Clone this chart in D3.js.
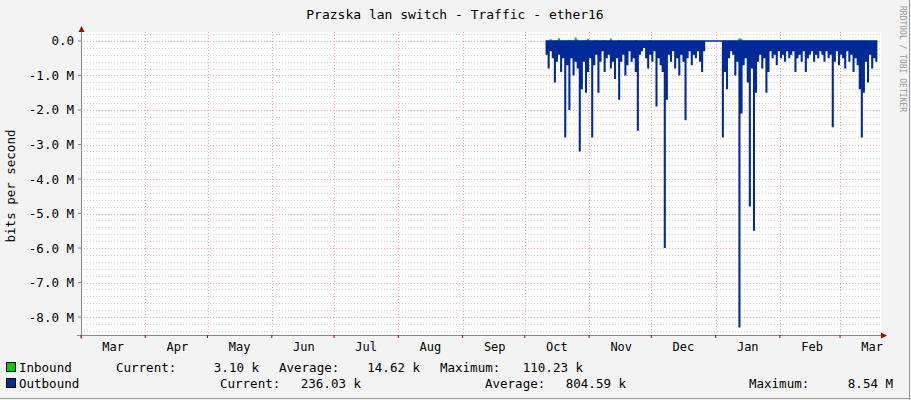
<!DOCTYPE html>
<html><head><meta charset="utf-8">
<script src="https://cdn.jsdelivr.net/npm/d3@7"></script>
<style>body{margin:0;background:#f3f3f3}svg{display:block}text{font-family:"DejaVu Sans Mono",monospace;}</style>
</head><body><svg id="c" width="911" height="400"></svg>
<script>
const title = "Prazska lan switch - Traffic - ether16";
const yTicks = [0,-1,-2,-3,-4,-5,-6,-7,-8];
const yTickLabels = ["0.0","-1.0 M","-2.0 M","-3.0 M","-4.0 M","-5.0 M","-6.0 M","-7.0 M","-8.0 M"];
const monthLabels = ["Mar","Apr","May","Jun","Jul","Aug","Sep","Oct","Nov","Dec","Jan","Feb","Mar"];
const dataStart = new Date(2015,9,11);
const outbound = [
-0.4,-0.8,-0.3,-0.5,-1.2,-0.6,-0.4,-0.9,-0.5,-2.8,
-0.7,-2.0,-0.5,-1.0,-0.6,-0.8,-3.2,-1.4,-0.6,-1.5,
-0.9,-0.5,-2.8,-0.7,-0.4,-1.5,-0.6,-0.3,-0.9,-0.5,
-0.4,-0.8,-0.6,-1.1,-0.5,-1.7,-0.6,-0.4,-1.0,-0.7,
-0.3,-0.6,-0.5,-0.9,-2.6,-0.4,-0.3,-0.2,-0.5,-0.8,
-0.4,-0.6,-0.3,-1.9,-0.5,-0.7,-0.9,-6.0,-1.7,-0.4,
-0.6,-0.3,-0.8,-0.5,-1.0,-0.4,-0.6,-2.3,-0.5,-0.3,
-0.7,-0.4,-0.5,-0.3,-0.6,-0.9,-0.3,0,0,0,
0,0,0,0,0,-2.8,-0.9,-1.4,-0.5,-0.3,
-0.4,-1.0,-0.6,-8.3,-2.1,-0.7,-0.5,-1.2,-4.8,-0.8,
-5.5,-1.5,-0.6,-0.4,-0.8,-0.5,-1.5,-0.9,-0.3,-0.5,
-0.4,-0.7,-0.3,-0.5,-0.4,-0.6,-0.3,-0.5,-0.4,-0.3,
-0.9,-0.5,-0.4,-0.6,-0.3,-0.9,-0.5,-0.4,-0.3,-0.6,
-0.4,-0.5,-0.3,-0.4,-0.6,-0.3,-0.5,-0.4,-2.5,-0.6,
-0.3,-0.7,-0.4,-0.5,-0.8,-0.3,-0.6,-0.4,-0.9,-0.5,
-0.7,-1.4,-2.8,-1.5,-0.6,-1.2,-0.4,-0.8,-0.5,-0.6,-0.2];
const inbound = [
0.01,0.01,0.05,0.01,0.01,0.02,0.08,0.01,0.01,0.01,0.01,0.03,0.01,0.01,0.10,0.04,0.01,0.01,0.01,0.02,
0.06,0.01,0.01,0.01,0.03,0.01,0.01,0.01,0.02,0.01,0.01,0.07,0.01,0.01,0.01,0.02,0.01,0.01,0.01,0.01,
0.01,0.01,0.01,0.03,0.01,0.01,0.01,0.01,0.01,0.01,0.02,0.01,0.01,0.01,0.01,0.01,0.01,0.01,0.01,0.01,
0.01,0.01,0.01,0.01,0.01,0.01,0.01,0.01,0.01,0.01,0.01,0.01,0.01,0.01,0.01,0.01,0.01,0,0,0,
0,0,0,0,0,0.01,0.02,0.01,0.01,0.01,0.01,0.01,0.01,0.08,0.05,0.01,0.01,0.01,0.01,0.01,
0.01,0.01,0.01,0.01,0.01,0.01,0.01,0.01,0.01,0.01,0.01,0.01,0.01,0.01,0.01,0.01,0.01,0.01,0.01,0.01,
0.01,0.01,0.01,0.01,0.01,0.01,0.01,0.01,0.01,0.01,0.01,0.01,0.01,0.01,0.01,0.01,0.01,0.01,0.01,0.01,
0.01,0.01,0.01,0.01,0.01,0.01,0.01,0.01,0.01,0.01,0.01,0.01,0.01,0.01,0.01,0.01,0.01,0.01,0.01,0.01,0.08];
const legendRows = [
 {name:"Inbound", color:"#00cc00", items:[["Current:","3.10 k",116,259],["Average:","14.62 k",279,420],["Maximum:","110.23 k",440,583]]},
 {name:"Outbound", color:"#002a97", items:[["Current:","236.03 k",220,361],["Average:","804.59 k",485,626],["Maximum:","8.54 M",749,893]]}
];

const svg = d3.select("#c");
const L=81,R=881,T=32,B=335;
const x = d3.scaleTime().domain([new Date(2015,2,1), new Date(2016,2,20,18)]).range([L,R]);
const y = d3.scaleLinear().domain([0.26,-8.52]).range([T,B]);
svg.append("rect").attr("x",0).attr("y",0).attr("width",911).attr("height",400).attr("fill","#f3f3f3");
svg.append("rect").attr("x",L).attr("y",T).attr("width",R-L).attr("height",B-T).attr("fill","#fff");
const minor = d3.range(0.2,-8.6,-0.2).map(v=>+v.toFixed(1)).filter(v=>Math.abs(v-Math.round(v))>0.01);
svg.append("g").selectAll("line").data(minor).join("line")
 .attr("x1",L).attr("x2",R).attr("y1",d=>Math.round(y(d))+0.5).attr("y2",d=>Math.round(y(d))+0.5)
 .attr("stroke","#ccc").attr("stroke-dasharray","1,2");
svg.append("g").selectAll("line").data(yTicks).join("line")
 .attr("x1",L).attr("x2",R).attr("y1",d=>Math.round(y(d))+0.5).attr("y2",d=>Math.round(y(d))+0.5)
 .attr("stroke","#f0a0a0").attr("stroke-dasharray","1,2");
const months = monthLabels.map((m,i)=>({label:m, start:new Date(2015,2+i,1), mid:new Date(2015,2+i,16,12)}));
svg.append("g").selectAll("line").data(months).join("line")
 .attr("x1",d=>Math.round(x(d.start))+0.5).attr("x2",d=>Math.round(x(d.start))+0.5).attr("y1",T).attr("y2",B)
 .attr("stroke","#f0a0a0").attr("stroke-dasharray","1,2");
const dates = outbound.map((v,i)=>d3.timeDay.offset(dataStart,i));
const area = d3.area().x((d,i)=>x(dates[i])).y0(y(0)).y1(d=>y(d)).curve(d3.curveStepAfter);
svg.append("path").datum(inbound).attr("d",area).attr("fill","#00cc00");
svg.append("path").datum(outbound).attr("d",area).attr("fill","#002a97");
svg.append("path").datum(outbound).attr("d",d3.line().x((d,i)=>x(dates[i])).y(y(0)).curve(d3.curveStepAfter)).attr("stroke","#002a97").attr("stroke-width",1.5).attr("fill","none");
svg.append("line").attr("x1",L-4).attr("x2",R+2).attr("y1",B+0.5).attr("y2",B+0.5).attr("stroke","#888");
svg.append("path").attr("d",`M${R+6},${B+0.5}L${R},${B-2.5}L${R},${B+3.5}Z`).attr("fill","#a00");
svg.append("line").attr("x1",L+0.5).attr("x2",L+0.5).attr("y1",T-2).attr("y2",B+4).attr("stroke","#888");
svg.append("path").attr("d",`M${L+0.5},${T-6}L${L-2.5},${T}L${L+3.5},${T}Z`).attr("fill","#a00");
svg.append("g").selectAll("line").data(yTicks).join("line").attr("x1",L-3).attr("x2",L).attr("y1",d=>y(d)).attr("y2",d=>y(d)).attr("stroke","#888");
svg.append("g").selectAll("line").data(months).join("line").attr("x1",d=>x(d.start)).attr("x2",d=>x(d.start)).attr("y1",B).attr("y2",B+3).attr("stroke","#a00");
svg.append("g").selectAll("text").data(yTicks).join("text").attr("x",74).attr("y",d=>y(d)+4.5)
 .attr("text-anchor","end").attr("font-size",12.5).attr("fill","#000").text((d,i)=>yTickLabels[i]);
svg.append("g").selectAll("text").data(months).join("text").attr("x",d=>x(d.mid)).attr("y",351)
 .attr("text-anchor","middle").attr("font-size",12).text(d=>d.label);
svg.append("text").attr("x",455).attr("y",19).attr("text-anchor","middle").attr("font-size",13).text(title);
svg.append("text").attr("transform","translate(15,186) rotate(-90)").attr("text-anchor","middle").attr("font-size",12.5).text("bits per second");
svg.append("text").attr("transform","translate(900,6) rotate(90)").attr("font-size",8).attr("fill","#999").text("RRDTOOL / TOBI OETIKER");
legendRows.forEach((r,k)=>{
 const yy=372+k*16;
 svg.append("rect").attr("x",6.5).attr("y",yy-9.5).attr("width",9).attr("height",9).attr("fill",r.color).attr("stroke","#000");
 svg.append("text").attr("x",19).attr("y",yy).attr("font-size",12.5).text(r.name);
 r.items.forEach(it=>{
  svg.append("text").attr("x",it[2]).attr("y",yy).attr("font-size",12.5).text(it[0]);
  svg.append("text").attr("x",it[3]).attr("y",yy).attr("text-anchor","end").attr("font-size",12.5).text(it[1]);
 });
});
svg.append("line").attr("x1",0).attr("x2",911).attr("y1",398.5).attr("y2",398.5).attr("stroke","#999");
svg.append("line").attr("x1",909.5).attr("x2",909.5).attr("y1",0).attr("y2",400).attr("stroke","#999");
</script></body></html>
